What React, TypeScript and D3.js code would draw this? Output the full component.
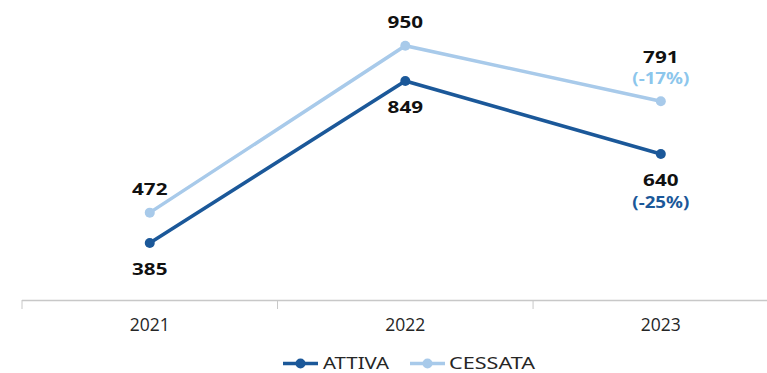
import React from "react";
import * as d3 from "d3";

const categories = ["2021", "2022", "2023"];
const attiva = [385, 849, 640];
const cessata = [472, 950, 791];
const attivaNotes = ["", "", "(-25%)"];
const cessataNotes = ["", "", "(-17%)"];
const legendLabels = ["ATTIVA", "CESSATA"];

const W = 767, H = 373;
const C_ATT = "#1B5899";
const C_CES = "#A8CAEA";
const C_CES_TXT = "#8CC6EC";

export default function App() {
  const x = d3.scaleBand().domain(categories).range([22, 788.6]);
  const y = d3.scaleLinear().domain([385, 849]).range([243, 81]);
  const cx = (c: string) => (x(c) as number) + x.bandwidth() / 2;
  const line = d3.line<number>().x((_, i) => cx(categories[i])).y((v) => y(v));
  const ticks = [...categories.map((c) => x(c) as number), 788.6];
  const labelFont = "'Noto Sans', sans-serif";
  const numLen = (v: number) => String(v).length * 11.8;
  return (
    <svg width={W} height={H} style={{ position: "absolute", left: 0, top: 0, background: "#fff" }}>
      <line x1={22} x2={W} y1={300.5} y2={300.5} stroke="#C8C8C8" strokeWidth={1.5} />
      {ticks.map((t, i) => (
        <line key={i} x1={t} x2={t} y1={300} y2={309} stroke="#C8C8C8" strokeWidth={1} />
      ))}
      {categories.map((c) => (
        <text key={c} x={cx(c)} y={331} textAnchor="middle" fontFamily="'Open Sans', sans-serif" fontSize={17.5} fill="#262626">
          {c}
        </text>
      ))}
      <path d={line(cessata) || ""} fill="none" stroke={C_CES} strokeWidth={3.5} />
      <path d={line(attiva) || ""} fill="none" stroke={C_ATT} strokeWidth={3.5} />
      {cessata.map((v, i) => (
        <circle key={"c" + i} cx={cx(categories[i])} cy={y(v)} r={5} fill={C_CES} />
      ))}
      {attiva.map((v, i) => (
        <circle key={"a" + i} cx={cx(categories[i])} cy={y(v)} r={5} fill={C_ATT} />
      ))}
      {cessata.map((v, i) => {
        const hasNote = cessataNotes[i] !== "";
        return (
          <g key={"cl" + i} fontFamily={labelFont} fontWeight={700} fontSize={16} textAnchor="middle">
            <text x={cx(categories[i])} y={y(v) - (hasNote ? 38 : 18)} fill="#111" textLength={numLen(v)} lengthAdjust="spacingAndGlyphs">{v}</text>
            {hasNote && (
              <text x={cx(categories[i])} y={y(v) - 17} fill={C_CES_TXT} textLength={57} lengthAdjust="spacingAndGlyphs">{cessataNotes[i]}</text>
            )}
          </g>
        );
      })}
      {attiva.map((v, i) => (
        <g key={"al" + i} fontFamily={labelFont} fontWeight={700} fontSize={16} textAnchor="middle">
          <text x={cx(categories[i])} y={y(v) + 32} fill="#111" textLength={numLen(v)} lengthAdjust="spacingAndGlyphs">{v}</text>
          {attivaNotes[i] !== "" && (
            <text x={cx(categories[i])} y={y(v) + 54} fill={C_ATT} textLength={57} lengthAdjust="spacingAndGlyphs">{attivaNotes[i]}</text>
          )}
        </g>
      ))}
      <g fontFamily="'Noto Sans', sans-serif" fontSize={16} fill="#262626">
        <line x1={283} x2={318} y1={363.5} y2={363.5} stroke={C_ATT} strokeWidth={3.5} />
        <circle cx={300.5} cy={363.5} r={5} fill={C_ATT} />
        <text x={323} y={368.5} textLength={66} lengthAdjust="spacingAndGlyphs">{legendLabels[0]}</text>
        <line x1={410} x2={445} y1={363.5} y2={363.5} stroke={C_CES} strokeWidth={3.5} />
        <circle cx={427.5} cy={363.5} r={5} fill={C_CES} />
        <text x={449} y={368.5} textLength={86} lengthAdjust="spacingAndGlyphs">{legendLabels[1]}</text>
      </g>
    </svg>
  );
}
